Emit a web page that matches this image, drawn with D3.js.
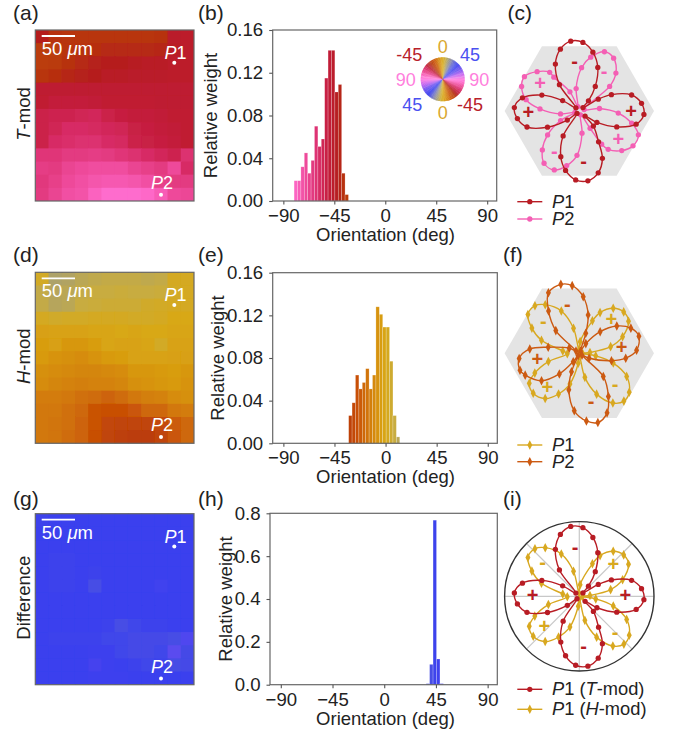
<!DOCTYPE html>
<html>
<head>
<meta charset="utf-8">
<script src="https://cdn.jsdelivr.net/npm/d3@7"></script>
<style>
  body { margin: 0; background: #fff; }
  text { font-family: "Liberation Sans", Arial, sans-serif; fill: #222; }
</style>
</head>
<body>
<svg id="chart" width="673" height="734">
  <defs><filter id="soft" x="0" y="0" width="100%" height="100%"><feGaussianBlur stdDeviation="0.6"/></filter></defs>
</svg>
<script>
// orientation (deg) per map cell. rows top to bottom
const mapT = [
  [-42,-37,-36,-36,-36,-36,-36,-36,-36,-37,-45,-46],
  [-33,-33,-36,-37,-38,-39,-39,-39,-39,-40,-44,-46],
  [-33,-34,-37,-39,-41,-42,-42,-43,-44,-44,-46,-46],
  [-36,-38,-40,-41,-42,-44,-44,-45,-45,-45,-46,-46],
  [-47,-47,-47,-47,-47,-47,-47,-47,-47,-47,-47,-47],
  [-48,-50,-50,-50,-49,-48,-48,-48,-48,-47,-47,-47],
  [-53,-54,-54,-55,-56,-53,-51,-50,-50,-49,-48,-48],
  [-53,-55,-58,-58,-57,-56,-55,-52,-51,-50,-49,-48],
  [-53,-58,-59,-60,-60,-58,-57,-53,-52,-51,-50,-48],
  [-62,-62,-64,-64,-65,-64,-62,-60,-58,-56,-54,-60],
  [-65,-64,-68,-70,-71,-71,-71,-68,-66,-64,-70,-58],
  [-63,-66,-70,-72,-74,-75,-75,-74,-72,-66,-64,-64],
  [-64,-68,-72,-73,-78,-82,-82,-82,-80,-76,-70,-69]
];
const mapH = [
  [3,14,13,11,10,9,9,9,10,9,2,2],
  [9,12,11,9,8,8,7,8,8,7,3,2],
  [9,12,11,8,7,6,6,6,4,3,2,2],
  [2,4,3,3,2,2,2,3,3,2,0,0],
  [-3,-2,-2,-2,-1,-1,0,-1,0,0,-1,-1],
  [-4,-3,-6,-6,-4,-1,-2,-2,-1,3,-2,-2],
  [-5,-7,-8,-9,-7,-5,-4,-2,-2,-2,-3,-3],
  [-8,-9,-10,-11,-11,-10,-9,-6,-6,-5,-4,-6],
  [-9,-11,-12,-13,-12,-12,-11,-8,-7,-6,-5,-7],
  [-14,-14,-15,-17,-18,-20,-18,-15,-13,-12,-9,-8],
  [-15,-15,-17,-19,-24,-25,-25,-23,-19,-19,-15,-14],
  [-15,-16,-17,-20,-24,-29,-30,-30,-30,-28,-22,-19],
  [-15,-16,-18,-20,-25,-30,-32,-33,-33,-30,-23,-19]
];
const mapD = [
  [44,45,45,45,45,45,45,45,45,45,45,45],
  [45,45,45,45,45,45,45,45,45,45,45,45],
  [45,45,45,45,45,45,45,45,45,45,45,45],
  [45,44,44,45,45,45,45,45,45,45,45,45],
  [45,44,44,45,44,45,45,45,45,45,45,45],
  [45,44,44,45,41,45,45,45,45,47,45,45],
  [45,45,45,45,45,45,45,45,45,45,45,45],
  [45,45,45,45,45,45,45,45,45,45,45,45],
  [45,45,45,45,45,44,41,43,44,44,45,45],
  [45,44,44,44,44,43,43,42,42,42,41,52],
  [45,45,45,45,46,46,43,42,42,43,55,42],
  [45,45,45,45,48,46,45,44,43,44,41,42],
  [45,45,45,45,46,46,46,45,45,45,45,45]
];

// histograms: bin centres (deg) and relative weight
const binsT = [-79,-76,-73,-70,-67,-64,-61,-58,-55,-52,-49,-46,-43,-40,-37,-34];
const weightT = [.019,.019,.032,.045,.026,.038,.070,.051,.058,.115,.141,.141,.102,.109,.026,.006];
const binsH = [-31,-28,-25,-22,-19,-16,-13,-10,-7,-4,-1,2,5,8,11];
const weightH = [.026,.038,.064,.051,.057,.070,.051,.064,.128,.121,.109,.109,.077,.026,.006];
const binsD = [38,41,44,47,50];
const weightD = [.005,.095,.768,.12,.005];

const xTicks = [-90,-45,0,45,90];
const yTicksSmall = [0,.04,.08,.12,.16];
const yTicksBig = [0,.2,.4,.6,.8];

// polar samples: angle (deg, ccw from +x) and amplitude (0..224 = outer edge of the plot)
const tP1Ang = [7,17,27,32,43,48,57,67,77,87,97,107,117,127,137,148,157,167,177,187,197,207,217,227,237,248,257,267,277,287,296,302,313,319,327,337,347,357];
const tP1Amp = [188,164,108,67,15,41,88,142,181,206,211,194,158,99,14,59,122,175,195,187,164,107,45,10,89,148,183,207,211,194,158,109,62,23,63,122,175,194];
const tP2Ang = [7,17,39,46,57,67,78,87,98,108,116,127,127.5,137,148,157,168,177,189,198,207,217,226.5,236,247,257,267,277,288,302,304,307,317,327,338,347,357];
const tP2Amp = [61,15,117,158,189,193,165,130,68,14,64,127,146,173,194,188,163,118,57,14,63,119,161,189,192,168,133,67,12,61,120,144,174,192,191,161,117];
const hP1Ang = [4,12,21,33,43,53,63,68,86,95,103,113,125,133,143,152,161,172,182,195,204,211,221,233,243,253,264,272,283,293,304,313,322,334,344,351,358];
const hP1Amp = [32,96,139,176,182,169,137,105,35,10,77,138,178,195,193,161,120,50,36,96,146,175,183,170,137,96,30,8,74,133,180,196,190,158,106,50,10];
const hP2Ang = [3,16,26,36,46,56,63,72,77,86,96,105,117,126,136,146,153,169,175,185,196,202,216,226,234,243,247,254,265,276,285,295,304,316,324,333,347,354];
const hP2Amp = [172,186,172,139,90,35,8,63,118,170,204,214,204,157,98,12,34,95,149,181,185,175,140,86,31,8,60,114,173,204,215,197,156,100,10,33,99,140];

const svg = d3.select("#chart");

// orientation colour wheel, -90..90 wraps round
const orientColor = d3.scaleLinear()
  .domain([-90,-80,-70,-60,-50,-42,-35,-25,-15,-5,0,8,15,25,35,45,60,75,90])
  .range(["#ff7ae0","#fe68c8","#ee4a9a","#dc3070","#c31c3a","#b51e1e","#b83808","#c84f06","#d2780a","#d89a10","#d8a815","#c8ac40","#a8a070","#8888a8","#5a60d8","#3a40ee","#6a50f0","#c060f0","#ff7ae0"])
  .clamp(true);

function panelLabel(t, x, y) {
  svg.append("text").attr("x", x).attr("y", y).attr("font-size", 21).text(t);
}

function rotLabel(x, y, size, parts) {
  const t = svg.append("text").attr("transform", "translate(" + x + "," + y + ") rotate(-90)")
    .attr("text-anchor", "middle").attr("font-size", size);
  parts.forEach(p => t.append("tspan").attr("font-style", p[1] ? "italic" : "normal").text(p[0]));
}

function drawMap(grid, top, name) {
  const left = 35.3, w = 158.7, h = 171;
  const x = d3.scaleBand().domain(d3.range(12)).range([left, left + w]);
  const y = d3.scaleBand().domain(d3.range(13)).range([top, top + h]);
  const cells = svg.append("g").attr("filter", "url(#soft)");
  grid.forEach((row, r) => {
    cells.append("g").selectAll("rect").data(row).join("rect")
      .attr("x", (d, c) => x(c)).attr("y", y(r))
      .attr("width", (d, c) => x.bandwidth() + (c < 11 ? 1 : 0)).attr("height", y.bandwidth() + (r < 12 ? 1 : 0))
      .attr("fill", d => orientColor(d));
  });
  svg.append("rect").attr("x", left).attr("y", top).attr("width", w).attr("height", h)
    .attr("fill", "none").attr("stroke", "#666").attr("stroke-width", 1.2);
  // scale bar
  svg.append("line").attr("x1", 41.7).attr("x2", 75).attr("y1", top + 6).attr("y2", top + 6)
    .attr("stroke", "#fff").attr("stroke-width", 1.8);
  const sb = svg.append("text").attr("x", 41.7).attr("y", top + 25).attr("font-size", 18.5).style("fill", "#fff");
  sb.append("tspan").text("50 ");
  sb.append("tspan").attr("font-style", "italic").text("μ");
  sb.append("tspan").text("m");
  // probe points
  [["1", 164.5, 29, 174.3, 32.7], ["2", 151, 159, 161, 164.7]].forEach(p => {
    const t = svg.append("text").attr("x", p[1]).attr("y", top + p[2]).attr("font-size", 18).style("fill", "#fff");
    t.append("tspan").attr("font-style", "italic").text("P");
    t.append("tspan").text(p[0]);
    svg.append("circle").attr("cx", p[3]).attr("cy", top + p[4]).attr("r", 2).attr("fill", "#fff");
  });
  rotLabel(29.5, top + 84, 18.5, name);
}

function drawHist(bins, weight, box, yMax, yTicks, yFmt, ylabX) {
  const x = d3.scaleLinear().domain([-99.4, 98.4]).range([box.l, box.r]);
  const y = d3.scaleLinear().domain([0, yMax]).range([box.b, box.t]);
  const g = svg.append("g");
  g.selectAll("rect").data(bins).join("rect")
    .attr("x", d => x(d - 1.5)).attr("width", d => x(d + 1.5) - x(d - 1.5))
    .attr("y", (d, i) => y(weight[i])).attr("height", (d, i) => y(0) - y(weight[i]))
    .attr("fill", d => orientColor(d))
    .attr("stroke", "#fff").attr("stroke-opacity", .35).attr("stroke-width", .6);
  g.append("rect").attr("x", box.l).attr("y", box.t).attr("width", box.r - box.l).attr("height", box.b - box.t)
    .attr("fill", "none").attr("stroke", "#666").attr("stroke-width", 1.2);
  const ax = svg.append("g").attr("transform", "translate(0," + box.b + ")")
    .call(d3.axisBottom(x).tickValues(xTicks).tickSize(3.5).tickPadding(4.2)
      .tickFormat(d => d < 0 ? "\u2212" + (-d) : d));
  const ay = svg.append("g").attr("transform", "translate(" + box.l + ",0)")
    .call(d3.axisLeft(y).tickValues(yTicks).tickSize(3.5).tickPadding(6).tickFormat(d3.format(yFmt)));
  [ax, ay].forEach(a => {
    a.select(".domain").remove();
    a.selectAll(".tick line").attr("stroke", "#555").attr("stroke-width", 1.1);
    a.selectAll(".tick text").attr("font-size", 18.6).attr("font-family", null);
  });
  rotLabel(ylabX, (box.t + box.b) / 2, 18.5, [["Relative weight", false]]);
  svg.append("text").attr("x", 385.5).attr("y", box.b + 40).attr("text-anchor", "middle")
    .attr("font-size", 18.5).text("Orientation (deg)");
}

const amp = d3.scaleLinear().domain([0, 224]).range([0, 74.7]);
const lobe = d3.lineRadial().curve(d3.curveCatmullRomClosed.alpha(.5));

function drawLobes(g, ang, ampVals, color, diamond) {
  const pts = ang.map((a, i) => [(90 - a) * Math.PI / 180, amp(ampVals[i])]);
  g.append("path").attr("d", lobe(pts)).attr("fill", "none").attr("stroke", color).attr("stroke-width", 1.4);
  g.append("g").selectAll("path").data(pts).join("path")
    .attr("d", d3.symbol().type(diamond ? d3.symbolDiamond : d3.symbolCircle).size(diamond ? 24 : 22)())
    .attr("transform", d => {
      const px = d[1] * Math.sin(d[0]), py = -d[1] * Math.cos(d[0]);
      return "translate(" + px + "," + py + ")" + (diamond ? " scale(.95,1.05)" : "");
    })
    .attr("fill", color);
}

function signs(g, list, color) {
  list.forEach(s => {
    g.append("text").attr("x", s[0]).attr("y", s[1]).attr("dy", ".35em").attr("text-anchor", "middle")
      .attr("font-size", 20).attr("font-weight", "bold").style("fill", color).text(s[2]);
  });
}

function legend(y, color, diamond, parts) {
  const g = svg.append("g");
  g.append("line").attr("x1", 517.3).attr("x2", 542.3).attr("y1", y).attr("y2", y)
    .attr("stroke", color).attr("stroke-width", 1.4);
  g.append("path").attr("d", d3.symbol().type(diamond ? d3.symbolDiamond : d3.symbolCircle).size(diamond ? 24 : 22)())
    .attr("transform", "translate(529.8," + y + ")" + (diamond ? " scale(.95,1.05)" : "")).attr("fill", color);
  const t = g.append("text").attr("x", 552).attr("y", y + 6).attr("font-size", 18.3);
  parts.forEach(p => t.append("tspan").attr("font-style", p[1] ? "italic" : "normal").text(p[0]));
}

function hexagon(g) {
  const r = amp(224);
  const corners = d3.range(6).map(k => [r * Math.cos(k * Math.PI / 3), r * Math.sin(k * Math.PI / 3)]);
  g.append("path").attr("d", "M" + corners.join("L") + "Z").attr("fill", "#e4e4e4");
}

const RED = "#b81c24", PINK = "#f45fb4", GOLD = "#d8a820", RUST = "#cc5a12";

// left column
drawMap(mapT, 30, [["T", true], ["-mod", false]]);
drawMap(mapH, 272.3, [["H", true], ["-mod", false]]);
drawMap(mapD, 513.7, [["Difference", false]]);

// middle column
drawHist(binsT, weightT, {l: 272.7, r: 496.7, t: 30, b: 201}, .16, yTicksSmall, ".2f", 217);
drawHist(binsH, weightH, {l: 272.7, r: 497.3, t: 272.7, b: 443.3}, .16, yTicksSmall, ".2f", 224);
drawHist(binsD, weightD, {l: 270, r: 497.3, t: 513.3, b: 684.7}, .8, yTicksBig, ".1f", 231.7);

// colour wheel inset
const wheel = svg.append("g").attr("transform", "translate(442.7,79.3)");
const wedge = d3.arc().innerRadius(0).outerRadius(22);
const wedgeAngles = d3.range(-90, 90, 2);
[0, Math.PI].forEach(off => {
  wheel.append("g").selectAll("path").data(wedgeAngles).join("path")
    .attr("d", d => wedge({startAngle: d * Math.PI / 180 + off - .005, endAngle: (d + 2) * Math.PI / 180 + off + .005}))
    .attr("fill", d => orientColor(d + 1));
});
const wheelLabels = [["0",442.7,46.7,"#d9a82f"],["45",470,55,"#4a50f0"],["-45",409.3,55,"#b8202a"],["90",405.7,79.3,"#ff80dd"],
  ["90",479.3,79.3,"#ff80dd"],["45",412.3,105,"#4a50f0"],["-45",470,105,"#b8202a"],["0",442.7,113,"#d9a82f"]];
wheelLabels.forEach(l => {
  svg.append("text").attr("x", l[1]).attr("y", l[2]).attr("dy", ".36em").attr("text-anchor", "middle")
    .attr("font-size", 18).style("fill", l[3]).text(l[0]);
});

// right column
const c = svg.append("g").attr("transform", "translate(579.3,111)");
hexagon(c);
drawLobes(c, tP2Ang, tP2Amp, PINK, false);
drawLobes(c, tP1Ang, tP1Amp, RED, false);
signs(c, [[-4.7,-50,"-"],[-51,.7,"+"],[51.7,0,"+"],[4.3,49.7,"-"]], RED);
signs(c, [[-39.3,-27.7,"+"],[39,28,"+"],[24.7,-40.3,"-"],[-25,40,"-"]], PINK);
legend(201.7, RED, false, [["P", true], ["1", false]]);
legend(219, PINK, false, [["P", true], ["2", false]]);

const f = svg.append("g").attr("transform", "translate(579.3,353.3)");
hexagon(f);
drawLobes(f, hP1Ang, hP1Amp, GOLD, true);
drawLobes(f, hP2Ang, hP2Amp, RUST, true);
signs(f, [[-12,-49.3,"-"],[42.3,-6,"+"],[-42,6,"+"],[11.7,48,"-"]], RUST);
signs(f, [[32,-34,"+"],[-36,-32.3,"-"],[-32,34,"+"],[35.7,31,"-"]], GOLD);
legend(445, GOLD, true, [["P", true], ["1", false]]);
legend(461.7, RUST, true, [["P", true], ["2", false]]);

const i3 = svg.append("g").attr("transform", "translate(579.3,596.3)");
[0,45,90,135].forEach(a => {
  const ca = Math.cos(a * Math.PI / 180), sa = Math.sin(a * Math.PI / 180);
  i3.append("line").attr("x1", amp(224) * ca).attr("y1", amp(224) * sa).attr("x2", -amp(224) * ca).attr("y2", -amp(224) * sa)
    .attr("stroke", "#c8c8c8").attr("stroke-width", 1.2);
});
i3.append("circle").attr("r", amp(224)).attr("fill", "none").attr("stroke", "#333").attr("stroke-width", 1.4);
drawLobes(i3, hP1Ang, hP1Amp, GOLD, true);
drawLobes(i3, tP1Ang, tP1Amp, RED, false);
signs(i3, [[-4.3,-49,"-"],[-46.7,-1.3,"+"],[46,-1.3,"+"],[4.3,49.7,"-"]], RED);
signs(i3, [[34,-32.3,"+"],[-36.7,-34,"-"],[-35,29.7,"+"],[35.7,35.3,"-"]], GOLD);
legend(689.3, RED, false, [["P", true], ["1 (", false], ["T", true], ["-mod)", false]]);
legend(709.3, GOLD, true, [["P", true], ["1 (", false], ["H", true], ["-mod)", false]]);

[["(a)",13,20],["(b)",198,20],["(c)",507.5,20],["(d)",13,262],["(e)",198,262],["(f)",503,262],["(g)",13,506],["(h)",198,506],["(i)",503,506]]
  .forEach(l => panelLabel(l[0], l[1], l[2]));
</script>
</body>
</html>
